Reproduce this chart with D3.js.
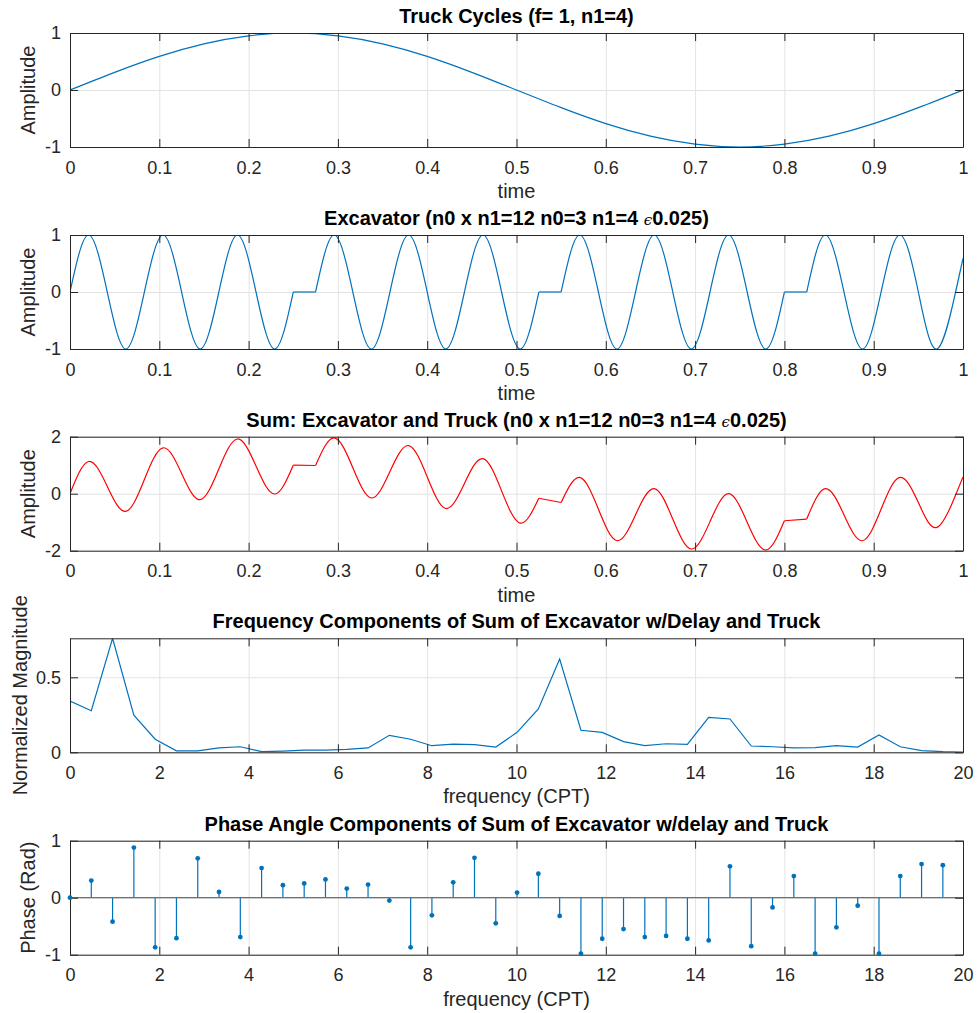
<!DOCTYPE html>
<html>
<head>
<meta charset="utf-8">
<script src="https://cdn.jsdelivr.net/npm/d3@7"></script>
<style>
  html, body { margin: 0; padding: 0; background: #fff; }
  svg { display: block; font-family: "Liberation Sans", Arial, Helvetica, sans-serif; }
</style>
</head>
<body>
<svg id="chart" width="977" height="1013"></svg>
<script>
// ---------------- DATA ----------------
const timeTicks = [0, 0.1, 0.2, 0.3, 0.4, 0.5, 0.6, 0.7, 0.8, 0.9, 1];
const freqTicks = [0, 2, 4, 6, 8, 10, 12, 14, 16, 18, 20];
const ampTicks = [-1, 0, 1];
const sumTicks = [-2, 0, 2];
const magTicks = [0, 0.5];
const phaseTicks = [-1, 0, 1];

const titles = [
  "Truck Cycles (f= 1, n1=4)",
  "Excavator (n0 x n1=12 n0=3 n1=4 ",
  "Sum: Excavator and Truck (n0 x n1=12 n0=3 n1=4 ",
  "Frequency Components of Sum of Excavator w/Delay and Truck",
  "Phase Angle Components of Sum of Excavator w/delay and Truck"
];
const xLabels = ["time", "time", "time", "frequency (CPT)", "frequency (CPT)"];
const yLabels = ["Amplitude", "Amplitude", "Amplitude", "Normalized Magnitude", "Phase (Rad)"];

// Truck cycle samples
const truckTimes = [0, 0.05, 0.1, 0.15, 0.2, 0.25, 0.3, 0.35, 0.4, 0.45, 0.5,
                    0.55, 0.6, 0.65, 0.7, 0.75, 0.8, 0.85, 0.9, 0.95, 1];
const truckValues = [0, 0.31, 0.59, 0.81, 0.95, 1, 0.95, 0.81, 0.59, 0.31, 0,
                     -0.31, -0.59, -0.81, -0.95, -1, -0.95, -0.81, -0.59, -0.31, 0];

// Excavator / sum samples (pieces separated by the delays)
const delayStarts = [0.25, 0.525, 0.8];
const sampleTimes = [
  0, 0.0208, 0.0417, 0.0625, 0.0833, 0.1042, 0.125, 0.1458, 0.1667, 0.1875, 0.2083, 0.2292, 0.25,
  0.275, 0.2958, 0.3167, 0.3375, 0.3583, 0.3792, 0.4, 0.4208, 0.4417, 0.4625, 0.4833, 0.5042, 0.525,
  0.55, 0.5708, 0.5917, 0.6125, 0.6333, 0.6542, 0.675, 0.6958, 0.7167, 0.7375, 0.7583, 0.7792, 0.8,
  0.825, 0.8458, 0.8667, 0.8875, 0.9083, 0.9292, 0.95, 0.9708, 0.9917, 1
];
const excavatorValues = [
  0, 1, 0, -1, 0, 1, 0, -1, 0, 1, 0, -1, 0,
  0, 1, 0, -1, 0, 1, 0, -1, 0, 1, 0, -1, 0,
  0, 1, 0, -1, 0, 1, 0, -1, 0, 1, 0, -1, 0,
  0, 1, 0, -1, 0, 1, 0, -1, 0, 0.59
];
const sumValues = [
  0, 1.13, 0.26, -0.62, 0.5, 1.61, 0.71, -0.21, 0.87, 1.92, 0.97, -0.01, 1.0,
  0.99, 1.96, 0.91, -0.15, 0.78, 1.69, 0.59, -0.52, 0.36, 1.23, 0.10, -1.03, -0.16,
  -0.31, 0.57, -0.54, -1.65, -0.74, 0.18, -0.89, -1.94, -0.98, 0.00, -1.00, -1.98, -0.95,
  -0.89, 0.18, -0.74, -1.65, -0.54, 0.57, -0.31, -1.18, -0.05, 0.59
];

// Frequency domain
const frequencies = [
  0, 0.4768, 0.9536, 1.4304, 1.9072, 2.384, 2.8608, 3.3376, 3.8144, 4.2912,
  4.768, 5.2448, 5.7216, 6.1984, 6.6752, 7.152, 7.6288, 8.1056, 8.5824, 9.0592,
  9.536, 10.0128, 10.4896, 10.9664, 11.4432, 11.92, 12.3968, 12.8736, 13.3504, 13.8272,
  14.304, 14.7808, 15.2576, 15.7344, 16.2112, 16.688, 17.1648, 17.6416, 18.1184, 18.5952,
  19.072, 19.5488, 20.0256
];
const magnitudes = [
  0.342, 0.277, 0.76, 0.247, 0.087, 0.010, 0.010, 0.029, 0.037, 0.004,
  0.008, 0.015, 0.015, 0.019, 0.029, 0.113, 0.087, 0.044, 0.055, 0.051,
  0.035, 0.133, 0.289, 0.622, 0.147, 0.133, 0.071, 0.044, 0.057, 0.053,
  0.233, 0.222, 0.042, 0.037, 0.029, 0.031, 0.044, 0.035, 0.115, 0.037,
  0.011, 0.004, 0.002
];
const phases = [
  0.0, 0.30, -0.42, 0.88, -0.87, -0.71, 0.69, 0.10, -0.69, 0.52,
  0.22, 0.25, 0.32, 0.16, 0.23, -0.05, -0.87, -0.31, 0.27, 0.70,
  -0.45, 0.09, 0.42, -0.32, -0.98, -0.72, -0.55, -0.69, -0.67, -0.72,
  -0.75, 0.55, -0.85, -0.17, 0.38, -0.98, -0.52, -0.14, -0.98, 0.38,
  0.59, 0.57
];

// ---------------- LAYOUT ----------------
const svg = d3.select("#chart");
const left = 70, right = 963, plotH = 114;
const tops = [33, 235, 436.7, 638.3, 840.7];
const yLabelX = [27.5, 27.5, 27.5, 20, 27.5];
const blue = "#0072BD", red = "#FF0000";
const tickFont = 18, labelFont = 20, titleFont = 20;

function panel(i, xDomain, yDomain, xTickVals, yTickVals) {
  const g = svg.append("g").attr("transform", `translate(0,${tops[i]})`);
  const x = d3.scaleLinear().domain(xDomain).range([left, right]);
  const y = d3.scaleLinear().domain(yDomain).range([plotH, 0]);
  const clipId = "clip" + i;
  g.append("clipPath").attr("id", clipId)
    .append("rect").attr("x", left).attr("y", 0).attr("width", right - left).attr("height", plotH);

  // grid
  const gx = g.append("g").attr("transform", `translate(0,${plotH})`)
    .call(d3.axisBottom(x).tickValues(xTickVals).tickSize(-plotH).tickFormat(""));
  const gy = g.append("g").attr("transform", `translate(${left},0)`)
    .call(d3.axisLeft(y).tickValues(yTickVals).tickSize(-(right - left)).tickFormat(""));
  [gx, gy].forEach(a => {
    a.select(".domain").remove();
    a.selectAll("line").attr("stroke", "#e3e3e3").attr("stroke-width", 1);
  });

  const plot = g.append("g").attr("clip-path", `url(#${clipId})`);
  const axes = g.append("g");
  const over = g.append("g");

  // axes with inward ticks on all sides
  const bottom = axes.append("g").attr("transform", `translate(0,${plotH})`)
    .call(d3.axisBottom(x).tickValues(xTickVals).tickSizeInner(-8).tickSizeOuter(0)
      .tickPadding(14).tickFormat(d => String(d)));
  const top = axes.append("g")
    .call(d3.axisTop(x).tickValues(xTickVals).tickSizeInner(-8).tickSizeOuter(0).tickFormat(""));
  const leftAx = axes.append("g").attr("transform", `translate(${left},0)`)
    .call(d3.axisLeft(y).tickValues(yTickVals).tickSizeInner(-8).tickSizeOuter(0)
      .tickPadding(9).tickFormat(d => String(d)));
  const rightAx = axes.append("g").attr("transform", `translate(${right},0)`)
    .call(d3.axisRight(y).tickValues(yTickVals).tickSizeInner(-8).tickSizeOuter(0).tickFormat(""));
  [bottom, top, leftAx, rightAx].forEach(a => {
    a.select(".domain").attr("stroke", "#262626").attr("stroke-width", 1);
    a.selectAll(".tick line").attr("stroke", "#262626").attr("stroke-width", 1);
    a.selectAll("text").attr("font-size", tickFont).attr("fill", "#262626")
      .attr("font-family", "'Liberation Sans', Arial, sans-serif");
  });

  // title
  const t = g.append("text")
    .attr("x", (left + right) / 2).attr("y", -10)
    .attr("text-anchor", "middle").attr("font-size", titleFont).attr("font-weight", "bold")
    .attr("fill", "#000").text(titles[i]);
  if (i === 1 || i === 2) {
    t.append("tspan").attr("font-weight", "normal").attr("font-style", "italic")
      .attr("font-family", "'DejaVu Serif', serif").attr("font-size", 15).text("\u03F5");
    t.append("tspan").text("0.025)");
  }
  // x label
  g.append("text").attr("x", (left + right) / 2).attr("y", plotH + 51)
    .attr("text-anchor", "middle").attr("font-size", labelFont).attr("fill", "#262626")
    .text(xLabels[i]);
  // y label
  g.append("text")
    .attr("transform", `translate(${yLabelX[i]},${plotH / 2}) rotate(-90)`)
    .attr("text-anchor", "middle").attr("dy", "0.35em")
    .attr("font-size", labelFont).attr("fill", "#262626").text(yLabels[i]);

  return { x, y, plot, over };
}

// split samples into pieces at delays, draw smooth pieces and straight delay segments
function drawDelayed(p, times, values, color) {
  const pts = times.map((t, k) => [t, values[k]]);
  const pieces = [[]];
  pts.forEach(pt => {
    pieces[pieces.length - 1].push(pt);
    if (delayStarts.includes(pt[0])) pieces.push([]);
  });
  const smooth = d3.line().x(d => p.x(d[0])).y(d => p.y(d[1])).curve(d3.curveNatural);
  const straight = d3.line().x(d => p.x(d[0])).y(d => p.y(d[1]));
  pieces.forEach((piece, k) => {
    if (piece.length < 2) return;
    p.plot.append("path").attr("d", smooth(piece)).attr("fill", "none")
      .attr("stroke", color).attr("stroke-width", 1.2);
    if (k < pieces.length - 1 && pieces[k + 1].length) {
      p.plot.append("path").attr("d", straight([piece[piece.length - 1], pieces[k + 1][0]]))
        .attr("fill", "none").attr("stroke", color).attr("stroke-width", 1.2);
    }
  });
}

// Panel 1: truck
const p1 = panel(0, [0, 1], [-1, 1], timeTicks, ampTicks);
p1.plot.append("path")
  .attr("d", d3.line().x((d, k) => p1.x(truckTimes[k])).y(d => p1.y(d)).curve(d3.curveNatural)(truckValues))
  .attr("fill", "none").attr("stroke", blue).attr("stroke-width", 1.2);

// Panel 2: excavator
const p2 = panel(1, [0, 1], [-1, 1], timeTicks, ampTicks);
drawDelayed(p2, sampleTimes, excavatorValues, blue);

// Panel 3: sum
const p3 = panel(2, [0, 1], [-2, 2], timeTicks, sumTicks);
drawDelayed(p3, sampleTimes, sumValues, red);

// Panel 4: magnitude
const p4 = panel(3, [0, 20], [0, 0.76], freqTicks, magTicks);
p4.plot.append("path")
  .attr("d", d3.line().x((d, k) => p4.x(frequencies[k])).y(d => p4.y(d))(magnitudes))
  .attr("fill", "none").attr("stroke", blue).attr("stroke-width", 1.2);

// Panel 5: phase stems
const p5 = panel(4, [0, 20], [-1, 1], freqTicks, phaseTicks);
p5.plot.selectAll("line.stem").data(phases).enter().append("line").attr("class", "stem")
  .attr("x1", (d, k) => p5.x(frequencies[k])).attr("x2", (d, k) => p5.x(frequencies[k]))
  .attr("y1", p5.y(0)).attr("y2", d => p5.y(d))
  .attr("stroke", blue).attr("stroke-width", 1.2);
p5.plot.append("line").attr("x1", left).attr("x2", right)
  .attr("y1", p5.y(0)).attr("y2", p5.y(0)).attr("stroke", "#707070").attr("stroke-width", 1.3);
p5.over.selectAll("circle").data(phases).enter().append("circle")
  .attr("cx", (d, k) => p5.x(frequencies[k])).attr("cy", d => p5.y(d)).attr("r", 2.4)
  .attr("fill", blue);
</script>
</body>
</html>
